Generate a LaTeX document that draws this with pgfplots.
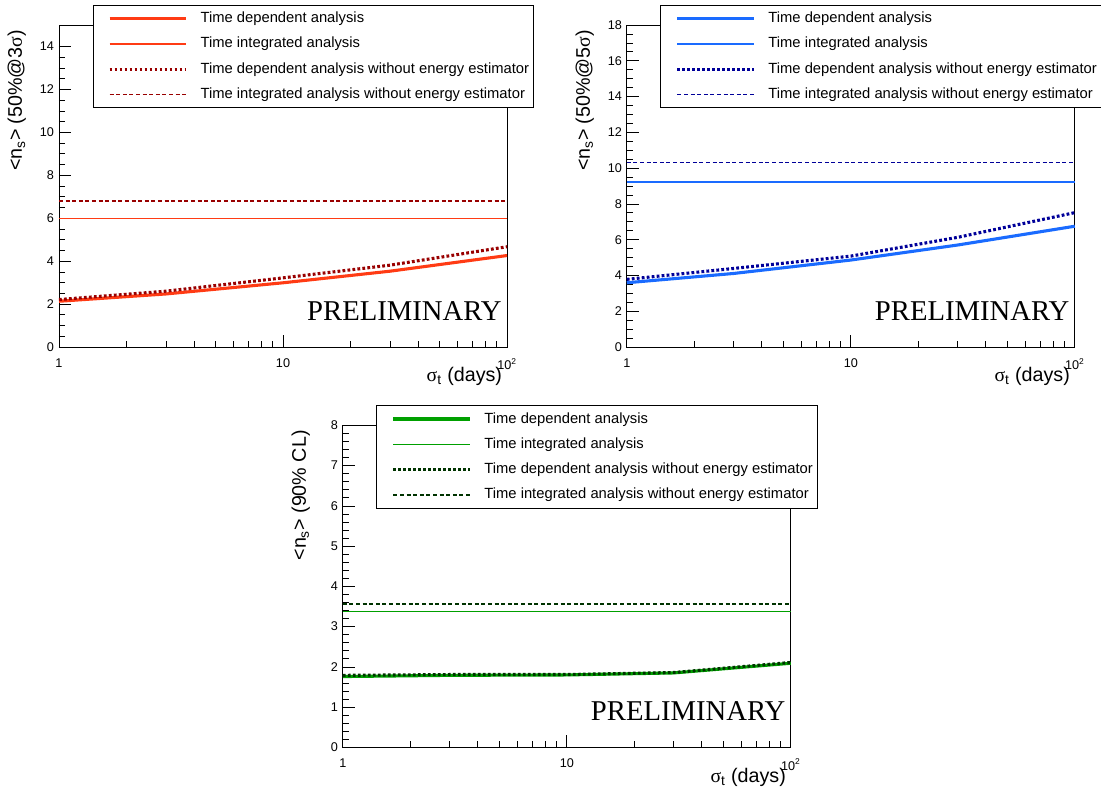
\documentclass[border=0pt]{standalone}
\usepackage{fontspec}
\setmainfont{Liberation Sans}
\newfontfamily\serif{Liberation Serif}
\usepackage{pgfplots}
\pgfplotsset{compat=1.18}
\definecolor{RedA}{HTML}{FF3B14}
\definecolor{RedB}{HTML}{990000}
\definecolor{BlueA}{HTML}{1A6BFF}
\definecolor{BlueB}{HTML}{000099}
\definecolor{GreenA}{HTML}{00A000}
\definecolor{GreenB}{HTML}{003300}

\newcommand{\sig}{{\serif σ}}
\tikzset{prelim/.style={anchor=base east, font=\serif\fontsize{20.4}{22}\selectfont}}

\pgfplotsset{
  rootpad/.style={
    scale only axis, width=112mm, height=80.5mm,
    anchor=south west,
    xmin=1, xmax=100,
    xtick={1,10,100}, xticklabels={1,10,10\textsuperscript{2}},
    minor xtick={2,3,4,5,6,7,8,9,20,30,40,50,60,70,80,90},
    ymin=0,
    tick align=inside, xtick pos=left, ytick pos=left,
    major tick length=3.1mm, minor tick length=1.6mm,
    tick style={black, line width=0.5pt},
    axis line style={black, line width=0.6pt},
    tick label style={font=\fontsize{9}{10}\selectfont},
    /pgf/number format/assume math mode=true,
    xticklabel style={yshift=-1.6mm},
    clip=false,
    xlabel={\sig\textsubscript{t} (days)},
    x label style={at={(axis description cs:1,-0.092)}, anchor=east, font=\fontsize{14}{16}\selectfont},
    y label style={at={(axis description cs:-0.094,1)}, anchor=east, font=\fontsize{14}{16}\selectfont},
    legend cell align=left,
    legend style={at={(0.075,1.0621)}, anchor=north west, draw=black, line width=0.6pt, fill=white,
      inner xsep=0pt, inner ysep=1.7mm, row sep=3.13mm,
      nodes={inner xsep=1.1mm, inner ysep=0pt, text height=2.6mm, text depth=0.6mm,
        font=\fontsize{10.5}{12}\selectfont}},
    legend image code/.code={
      \path[draw=none,fill=none] (0mm,-1.6mm) rectangle (25.8mm,1.6mm);
      \draw[##1] (4.15mm,0mm) -- (23.3mm,0mm);
    },
  },
  sTD/.style={line width=2.2pt},
  sTI/.style={line width=0.9pt},
  sTDW/.style={line width=2.2pt, dash pattern=on 0.7mm off 0.55mm},
  sTIW/.style={line width=0.9pt, dash pattern=on 1mm off 0.65mm},
}

\begin{document}
\begin{tikzpicture}

% top left: 50% @ 3 sigma
\begin{semilogxaxis}[rootpad, at={(14.75mm,110.5mm)}, ymax=15, ytick={0,2,...,14}, minor y tick num=3,
  ylabel={<n\textsubscript{s}> (50\%@3\sig)}]
\addplot[sTD, color=RedA] coordinates {(1,2.13) (3,2.47) (10,2.99) (30,3.53) (100,4.26)};
\addlegendentry{Time dependent analysis}
\addplot[sTI, color=RedA] coordinates {(1,6.0) (100,6.0)};
\addlegendentry{Time integrated analysis}
\addplot[sTDW, color=RedB] coordinates {(1,2.21) (3,2.6) (10,3.22) (30,3.81) (100,4.67)};
\addlegendentry{Time dependent analysis without energy estimator}
\addplot[sTIW, color=RedB] coordinates {(1,6.8) (100,6.8)};
\addlegendentry{Time integrated analysis without energy estimator}
\node[prelim] at (axis description cs:0.999,0.082) {PRELIMINARY};
\end{semilogxaxis}

% top right: 50% @ 5 sigma
\begin{semilogxaxis}[rootpad, at={(156.7mm,110.5mm)}, ymax=18, ytick={0,2,...,18}, minor y tick num=3,
  ylabel={<n\textsubscript{s}> (50\%@5\sig)}]
\addplot[sTD, color=BlueA] coordinates {(1,3.59) (3,4.11) (10,4.86) (30,5.70) (100,6.75)};
\addlegendentry{Time dependent analysis}
\addplot[sTI, color=BlueA] coordinates {(1,9.23) (100,9.23)};
\addlegendentry{Time integrated analysis}
\addplot[sTDW, color=BlueB] coordinates {(1,3.78) (3,4.39) (10,5.08) (30,6.13) (100,7.51)};
\addlegendentry{Time dependent analysis without energy estimator}
\addplot[sTIW, color=BlueB] coordinates {(1,10.31) (100,10.31)};
\addlegendentry{Time integrated analysis without energy estimator}
\node[prelim] at (axis description cs:0.999,0.082) {PRELIMINARY};
\end{semilogxaxis}

% bottom: 90% CL
\begin{semilogxaxis}[rootpad, at={(85.7mm,10.4mm)}, ymax=8, ytick={0,1,...,8}, minor y tick num=4,
  ylabel={<n\textsubscript{s}> (90\% CL)}]
\addplot[sTD, color=GreenA] coordinates {(1,1.76) (3,1.79) (10,1.80) (30,1.85) (100,2.09)};
\addlegendentry{Time dependent analysis}
\addplot[sTI, color=GreenA] coordinates {(1,3.38) (100,3.38)};
\addlegendentry{Time integrated analysis}
\addplot[sTDW, color=GreenB] coordinates {(1,1.79) (3,1.81) (10,1.81) (30,1.86) (100,2.11)};
\addlegendentry{Time dependent analysis without energy estimator}
\addplot[sTIW, color=GreenB] coordinates {(1,3.56) (100,3.56)};
\addlegendentry{Time integrated analysis without energy estimator}
\node[prelim] at (axis description cs:0.999,0.082) {PRELIMINARY};
\end{semilogxaxis}

\pgfresetboundingbox
\path[use as bounding box] (0,0) rectangle (275.25mm,197.25mm);
\end{tikzpicture}
\end{document}
